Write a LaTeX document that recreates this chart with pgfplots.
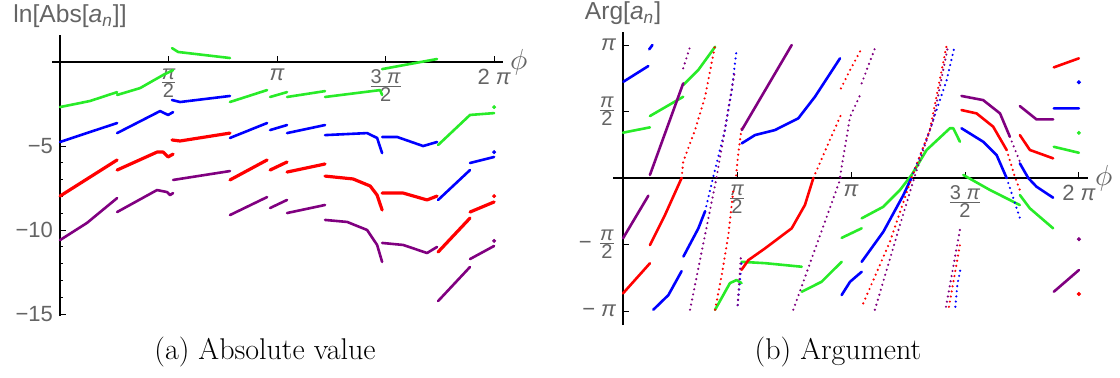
\documentclass[border=0pt]{standalone}
\usepackage{fontspec}
\usepackage{pgfplots}
\pgfplotsset{compat=1.18}
\newfontfamily\lsans{Liberation Sans}
\definecolor{mgreen}{RGB}{40,235,40}
\definecolor{mblue}{RGB}{0,0,255}
\definecolor{mred}{RGB}{255,0,0}
\definecolor{mpurple}{RGB}{128,0,128}
\definecolor{labelgray}{RGB}{100,100,100}
\newcommand{\lab}{\fontsize{11}{12}\selectfont\lsans}
\newcommand{\axlab}{\fontsize{12.3}{14}\selectfont\lsans}
\newcommand{\piit}{{\itshape π}}
\newcommand{\pifrac}[2]{$\frac{\hbox{\fontsize{10}{11}\selectfont\lsans #1}}{\hbox{\fontsize{10}{11}\selectfont\lsans #2}}$}
\pgfplotsset{
  seg/.style={line width=1.3pt, line cap=round, line join=round},
  dots/.style={line width=1.2pt, line cap=round, dash pattern=on 0pt off 2.6pt},
  dot/.style={only marks, mark=*, mark size=0.8pt},
  mma/.style={scale only axis, axis lines=middle,
    axis line style={-, black, line width=0.7pt},
    tick style={black, line width=0.4pt}, major tick length=3pt, minor tick length=1.5pt,
    tick align=inside, tick label style={text=labelgray, font=\lab},
    unbounded coords=jump, xtick={0.5,1,1.5,2},
    xticklabels={\pifrac{\piit}{2}, \piit, \pifrac{3 \piit}{2}, 2 \piit},
    xlabel={\scalebox{1.45}{$\phi$}},
    xlabel style={text=labelgray, at={(current axis.right of origin)}, anchor=west},
    ylabel style={text=labelgray, font=\axlab, at={(current axis.above origin)}, anchor=south},
  },
}
\begin{document}
\begin{tikzpicture}
\useasboundingbox (0,0) rectangle (560pt,188.5pt);
% ---------------- (a) logarithm of the modulus ----------------
\begin{axis}[mma, at={(26pt,30.5pt)}, anchor=south west,
  width=225.5pt, height=140.5pt,
  xmin=-0.037, xmax=2.041, ymin=-15.12, ymax=1.61,
  ytick={-15,-10,-5}, yticklabels={−15,−10,−5}, minor y tick num=4,
  ylabel={ln[Abs[\textit{a}\textsubscript{\itshape n}]]},
  ylabel style={xshift=5pt}]
\addplot[seg, mgreen] coordinates {
 (0,-2.68) (0.138,-2.32) (0.263,-1.79) (nan,nan)
 (0.263,-1.96) (0.369,-1.55) (0.475,-0.77) (0.521,-0.48) (nan,nan)
 (0.516,0.83) (0.544,0.60) (0.783,0.24) (nan,nan)
 (0.783,-2.38) (0.954,-1.67) (nan,nan)
 (0.968,-2.08) (1.046,-1.79) (nan,nan)
 (1.046,-2.08) (1.221,-1.73) (nan,nan)
 (1.221,-2.08) (1.475,-1.67) (1.484,-1.96) (nan,nan)
 (1.484,-0.42) (1.737,0.18) (nan,nan)
 (1.742,-4.94) (1.889,-3.15) (2.0,-3.04)};
\addplot[dot, mgreen] coordinates {(2.0,-2.68)};
\addplot[seg, mblue] coordinates {
 (0,-4.76) (0.263,-3.63) (nan,nan)
 (0.263,-4.23) (0.461,-2.92) (0.498,-3.15) (0.521,-2.98) (nan,nan)
 (0.516,-2.26) (0.553,-2.38) (0.783,-2.02) (nan,nan)
 (0.783,-4.52) (0.954,-3.63) (nan,nan)
 (0.968,-4.05) (1.046,-3.75) (nan,nan)
 (1.046,-4.23) (1.221,-3.75) (nan,nan)
 (1.221,-4.35) (1.415,-4.23) (1.461,-4.52) (1.484,-5.42) (nan,nan)
 (1.484,-4.46) (1.553,-4.46) (1.673,-5.0) (1.737,-4.76) (nan,nan)
 (1.742,-8.21) (1.889,-6.43) (nan,nan)
 (1.889,-6.01) (2.0,-5.65)};
\addplot[dot, mblue] coordinates {(2.0,-5.36)};
\addplot[seg, mred, line width=1.6pt] coordinates {
 (0,-7.98) (0.263,-5.83) (nan,nan)
 (0.263,-6.43) (0.447,-5.36) (0.475,-5.36) (0.498,-5.65) (0.521,-5.48) (nan,nan)
 (0.516,-4.64) (0.553,-4.70) (0.783,-4.23) (nan,nan)
 (0.783,-7.02) (0.954,-5.83) (nan,nan)
 (0.968,-6.43) (1.046,-5.95) (nan,nan)
 (1.046,-6.55) (1.221,-6.07) (nan,nan)
 (1.221,-6.79) (1.350,-6.96) (1.429,-7.38) (1.461,-7.92) (1.484,-8.81) (nan,nan)
 (1.484,-7.80) (1.581,-7.80) (1.691,-8.21) (1.737,-7.98) (nan,nan)
 (1.742,-11.31) (1.889,-9.29) (nan,nan)
 (1.889,-8.93) (2.0,-8.33)};
\addplot[dot, mred] coordinates {(2.0,-7.98)};
\addplot[seg, mpurple] coordinates {
 (0,-10.60) (0.124,-9.58) (0.263,-8.10) (nan,nan)
 (0.263,-8.93) (0.447,-7.62) (0.493,-7.74) (0.507,-7.92) (0.521,-7.80) (nan,nan)
 (0.521,-7.02) (0.783,-6.49) (nan,nan)
 (0.783,-9.11) (0.954,-8.04) (nan,nan)
 (0.968,-8.69) (1.046,-8.21) (nan,nan)
 (1.046,-8.99) (1.221,-8.51) (nan,nan)
 (1.221,-9.40) (1.323,-9.52) (1.415,-10.0) (1.461,-10.89) (1.484,-11.90) (nan,nan)
 (1.484,-10.77) (1.581,-10.89) (1.691,-11.37) (1.737,-11.01) (nan,nan)
 (1.742,-14.23) (1.889,-12.20) (nan,nan)
 (1.889,-11.73) (2.0,-10.95)};
\addplot[dot, mpurple] coordinates {(2.0,-10.65)};
\end{axis}
% ---------------- (b) argument, in units of pi ----------------
\begin{axis}[mma, at={(306.5pt,26pt)}, anchor=south west,
  width=237.5pt, height=146.5pt,
  xmin=-0.044, xmax=2.04, ymin=-1.105, ymax=1.098,
  ytick={-1,-0.5,0.5,1},
  yticklabels={− \piit, − \pifrac{\piit}{2}, \pifrac{\piit}{2}, \piit},
  ylabel={Arg[\textit{a}\textsubscript{\itshape n}]}]
% green
\addplot[seg, mgreen] coordinates {
 (0,0.341) (0.118,0.381) (nan,nan)
 (0.118,0.466) (0.264,0.611) (nan,nan)
 (0.264,0.699) (0.33,0.812) (0.404,0.987) (nan,nan)
 (0.404,-0.99) (0.469,-0.79) (0.498,-0.767) (0.52,-0.79) (nan,nan)
 (0.52,-0.63) (0.623,-0.64) (0.784,-0.667) (nan,nan)
 (0.784,-0.855) (0.871,-0.78) (0.959,-0.63) (nan,nan)
 (0.959,-0.45) (1.047,-0.378) (nan,nan)
 (1.047,-0.303) (1.142,-0.216) (1.215,-0.09) (1.266,0.023) (1.332,0.211) (1.434,0.374) (1.449,0.374) (1.478,0.273) (nan,nan)
 (1.493,0.023) (1.61,-0.09) (1.741,-0.203) (nan,nan)
 (1.741,-0.128) (1.785,-0.228) (1.887,-0.378) (nan,nan)
 (1.89,0.235) (2.0,0.19)};
\addplot[dot, mgreen] coordinates {(2.0,0.34)};
% blue
\addplot[seg, mblue] coordinates {
 (0.0015,0.724) (0.111,0.842) (nan,nan)
 (0.115,0.968) (0.129,1.0) (nan,nan)
 (0.133,-0.99) (0.199,-0.88) (0.257,-0.70) (nan,nan)
 (0.265,-0.59) (0.33,-0.38) (0.36,-0.25) (nan,nan)
 (0.521,0.261) (0.579,0.323) (0.667,0.361) (0.769,0.449) (0.842,0.611) (0.952,0.9) (nan,nan)
 (0.959,-0.88) (0.996,-0.78) (1.047,-0.705) (nan,nan)
 (1.047,-0.63) (1.142,-0.404) (1.23,-0.128) (1.265,0.0) (nan,nan)
 (1.485,0.374) (1.58,0.273) (1.639,0.173) (1.683,0.0) (nan,nan)
 (1.741,0.11) (1.778,0.0) (1.814,-0.065) (1.887,-0.148) (nan,nan)
 (1.89,0.524) (2.0,0.524)};
\addplot[dots, mblue] coordinates {
 (0.36,-0.25) (0.396,0.01) (0.447,0.36) (0.477,0.66) (0.499,0.975) (nan,nan)
 (0.503,-0.955) (0.52,-0.64) (nan,nan)
 (1.265,0.0) (1.346,0.36) (1.42,0.737) (1.456,1.0) (nan,nan)
 (1.683,0.0) (1.741,-0.30) (nan,nan)
 (1.458,-0.968) (1.467,-0.80) (1.481,-0.68)};
\addplot[dot, mblue] coordinates {(2.0,0.72)};
% red
\addplot[seg, mred] coordinates {
 (0,-0.867) (0.118,-0.641) (nan,nan)
 (0.118,-0.504) (0.184,-0.278) (0.257,0.0) (nan,nan)
 (0.52,-0.69) (0.55,-0.617) (0.623,-0.529) (0.74,-0.378) (0.798,-0.203) (0.835,0.0) (nan,nan)
 (1.485,0.511) (1.551,0.486) (1.624,0.386) (1.683,0.211) (nan,nan)
 (1.741,0.323) (1.785,0.211) (1.887,0.148) (nan,nan)
 (1.89,0.832) (2.0,0.9)};
\addplot[dots, mred] coordinates {
 (0.257,0.0) (0.264,0.123) (0.316,0.361) (0.36,0.611) (0.404,1.0) (nan,nan)
 (0.404,-0.99) (0.433,-0.73) (0.462,-0.43) (0.477,-0.2) (0.484,-0.09) (nan,nan)
 (0.496,0.02) (0.506,0.19) (0.521,0.386) (nan,nan)
 (0.835,0.0) (0.901,0.261) (0.956,0.474) (nan,nan)
 (0.956,0.674) (0.996,0.812) (1.047,0.975) (nan,nan)
 (1.054,-0.942) (1.171,-0.479) (1.266,0.0) (1.346,0.36) (1.42,1.0) (nan,nan)
 (1.683,0.211) (1.719,0.01) (1.741,-0.09) (nan,nan)
 (1.43,-0.968) (1.478,-0.504)};
\addplot[dot, mred] coordinates {(2.0,-0.872)};
% purple
\addplot[seg, mpurple] coordinates {
 (0.0,-0.453) (0.111,-0.133) (nan,nan)
 (0.118,0.023) (0.264,0.712) (nan,nan)
 (0.521,0.361) (0.74,1.0) (nan,nan)
 (1.485,0.617) (1.58,0.586) (1.654,0.486) (1.697,0.311) (nan,nan)
 (1.741,0.541) (1.814,0.441) (1.887,0.441) (nan,nan)
 (1.89,-0.855) (2.0,-0.692)};
\addplot[dots, mpurple] coordinates {
 (0.264,0.825) (0.294,0.987) (nan,nan)
 (0.294,-0.99) (0.41,0.0) (0.46,0.5) (0.49,0.8) (nan,nan)
 (0.503,-0.955) (0.518,-0.566) (nan,nan)
 (0.747,-0.99) (0.959,0.02) (nan,nan)
 (0.952,0.01) (0.996,0.46) (1.047,0.649) (nan,nan)
 (1.047,0.712) (1.105,0.975) (nan,nan)
 (1.105,-0.99) (1.215,-0.353) (1.281,0.02) (1.361,0.436) (1.427,1.0) (nan,nan)
 (1.697,0.311) (1.741,0.123) (nan,nan)
 (1.417,-0.968) (1.478,-0.39)};
\addplot[dot, mpurple] coordinates {(2.0,-0.46)};
\end{axis}
\node at (132.5pt,12.5pt) {\fontsize{15}{17}\selectfont (a) Absolute value};
\node at (419pt,12.5pt) {\fontsize{15}{17}\selectfont (b) Argument};
\end{tikzpicture}
\end{document}
